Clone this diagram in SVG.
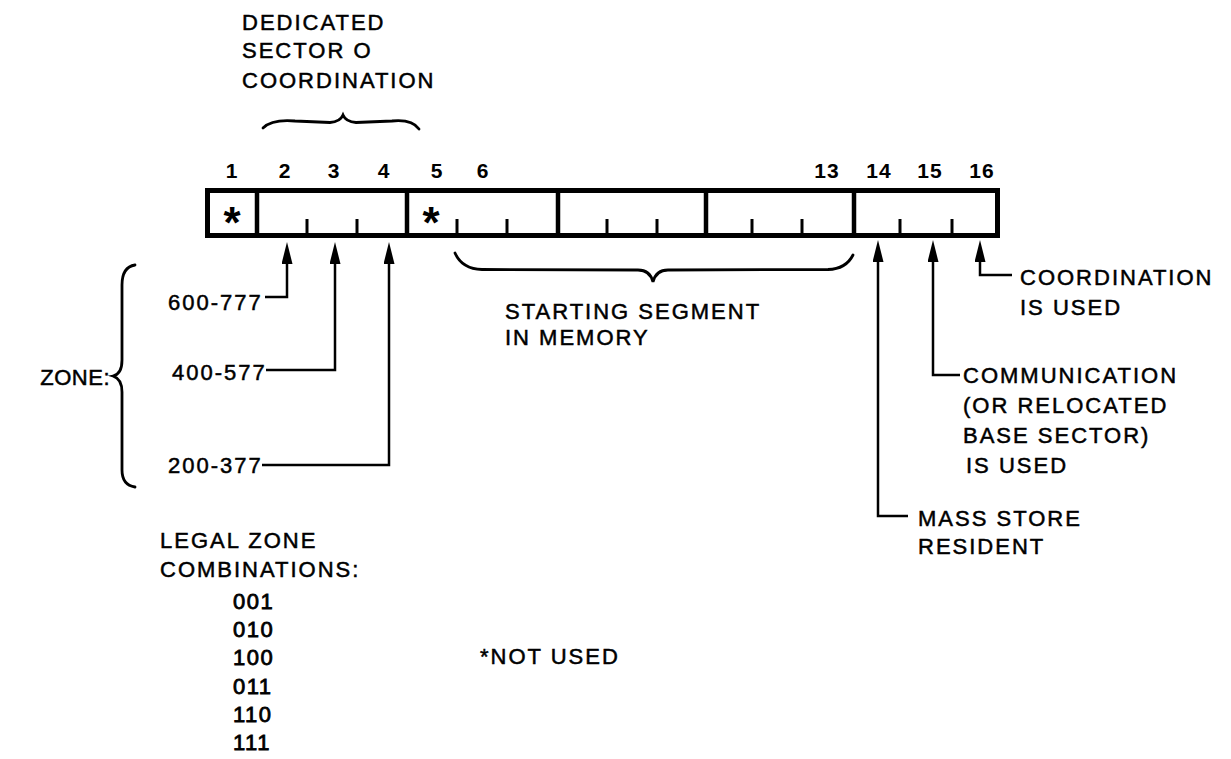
<svg xmlns="http://www.w3.org/2000/svg" width="1231" height="759" viewBox="0 0 1231 759">
<style>
.t{font-family:"Liberation Sans",Arial,sans-serif;font-size:22px;letter-spacing:2px;fill:#000;stroke:#000;stroke-width:0.5}
.n{font-family:"Liberation Sans",Arial,sans-serif;font-size:21px;font-weight:bold;letter-spacing:1px;fill:#000;text-anchor:middle}
.b{font-family:"Liberation Sans",Arial,sans-serif;font-size:22px;letter-spacing:1.5px;fill:#000;stroke:#000;stroke-width:0.8}
.ast{font-family:"Liberation Sans",Arial,sans-serif;font-size:44px;font-weight:bold;fill:#000;text-anchor:middle}
.ln{fill:none;stroke:#000;stroke-width:2.5}
.br{fill:none;stroke:#000;stroke-width:2.8;stroke-linecap:round}
.box{fill:#fff;stroke:#000;stroke-width:5}
.div{stroke:#000;stroke-width:4.5}
.tick{stroke:#000;stroke-width:3}
</style>
<defs>
<marker id="ah" viewBox="0 0 22 11" refX="14" refY="5.5" markerUnits="userSpaceOnUse" markerWidth="22" markerHeight="11" orient="auto">
<path d="M0,0 L22,5.5 L0,11 z" fill="#000"/>
</marker>
</defs>
<rect width="1231" height="759" fill="#fff"/>

<g id="header-dedicated">
<text class="t" x="242" y="30">DEDICATED</text>
<text class="t" x="242" y="58">SECTOR O</text>
<text class="t" x="242" y="88">COORDINATION</text>
<path class="br" d="M263,128 Q272,119 295,121 L330,122.5 Q340,122 343,115 Q346,122 356,122.5 L392,121 Q412,119 419,129"/>
</g>

<g id="bit-numbers">
<text class="n" x="232" y="178">1</text>
<text class="n" x="285" y="178">2</text>
<text class="n" x="334" y="178">3</text>
<text class="n" x="384" y="178">4</text>
<text class="n" x="437" y="178">5</text>
<text class="n" x="483" y="178">6</text>
<text class="n" x="827" y="178">13</text>
<text class="n" x="879" y="178">14</text>
<text class="n" x="930" y="178">15</text>
<text class="n" x="982" y="178">16</text>
</g>

<g id="word-box">
<rect class="box" x="207.5" y="190.5" width="790" height="45"/>
<line class="div" x1="257" y1="190" x2="257" y2="236"/>
<line class="div" x1="407" y1="190" x2="407" y2="236"/>
<line class="div" x1="558" y1="190" x2="558" y2="236"/>
<line class="div" x1="706" y1="190" x2="706" y2="236"/>
<line class="div" x1="854" y1="190" x2="854" y2="236"/>
<line class="tick" x1="307" y1="219" x2="307" y2="236"/>
<line class="tick" x1="357" y1="219" x2="357" y2="236"/>
<line class="tick" x1="457" y1="219" x2="457" y2="236"/>
<line class="tick" x1="507" y1="219" x2="507" y2="236"/>
<line class="tick" x1="607" y1="219" x2="607" y2="236"/>
<line class="tick" x1="657" y1="219" x2="657" y2="236"/>
<line class="tick" x1="752" y1="219" x2="752" y2="236"/>
<line class="tick" x1="802" y1="219" x2="802" y2="236"/>
<line class="tick" x1="900" y1="219" x2="900" y2="236"/>
<line class="tick" x1="952" y1="219" x2="952" y2="236"/>
<text class="ast" x="232" y="238">*</text>
<text class="ast" x="431" y="238">*</text>
</g>

<g id="zone-labels">
<text class="t" x="168" y="310">600-777</text>
<text class="t" x="172" y="380">400-577</text>
<text class="t" x="168" y="473">200-377</text>
<text class="t" x="110" y="385" text-anchor="end" style="letter-spacing:0.5px">ZONE:</text>
<path class="br" d="M135,265 Q122,267 122,285 L122,360 Q122,374 113,376 Q122,379 122,392 L122,470 Q122,485 135,487"/>
</g>

<g id="starting-segment">
<path class="br" d="M455,253 Q462,269 482,269.5 L638,270 Q650,270 653,282 Q656,270 668,270 L828,269.5 Q846,269 853,255"/>
<text class="t" x="505" y="319">STARTING SEGMENT</text>
<text class="t" x="505" y="345">IN MEMORY</text>
</g>

<g id="right-labels">
<text class="t" x="1020" y="285">COORDINATION</text>
<text class="t" x="1020" y="315">IS USED</text>
<text class="t" x="963" y="383">COMMUNICATION</text>
<text class="t" x="963" y="413">(OR RELOCATED</text>
<text class="t" x="963" y="443">BASE SECTOR)</text>
<text class="t" x="966" y="473">IS USED</text>
<text class="t" x="918" y="526">MASS STORE</text>
<text class="t" x="918" y="554">RESIDENT</text>
</g>

<g id="legal-zones">
<text class="t" x="160" y="548">LEGAL ZONE</text>
<text class="t" x="160" y="577">COMBINATIONS:</text>
<text class="b" x="233" y="609">001</text>
<text class="b" x="233" y="637">010</text>
<text class="b" x="233" y="665">100</text>
<text class="b" x="233" y="694">011</text>
<text class="b" x="233" y="722">110</text>
<text class="b" x="233" y="750">111</text>
<text class="t" x="480" y="664">*NOT USED</text>
</g>

<g id="connectors">
<path class="ln" d="M265,297 L287,297 L287,250" marker-end="url(#ah)"/>
<path class="ln" d="M266,370 L335,370 L335,250" marker-end="url(#ah)"/>
<path class="ln" d="M262,465 L389,465 L389,250" marker-end="url(#ah)"/>
<path class="ln" d="M1012,275 L980,275 L980,248" marker-end="url(#ah)"/>
<path class="ln" d="M960,375 L933,375 L933,248" marker-end="url(#ah)"/>
<path class="ln" d="M908,516 L878,516 L878,248" marker-end="url(#ah)"/>
</g>
</svg>
